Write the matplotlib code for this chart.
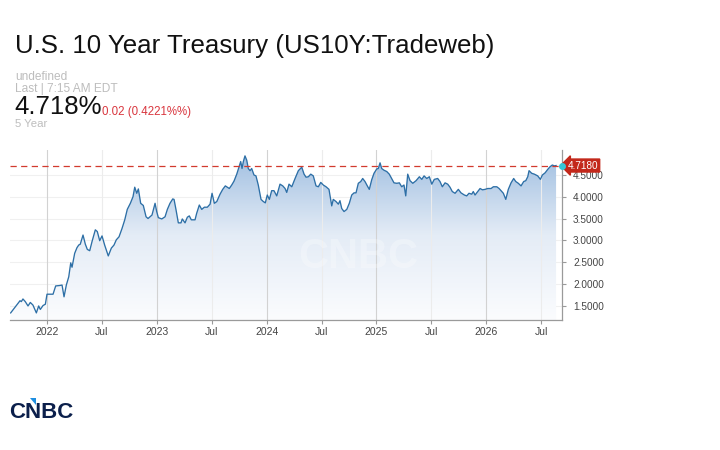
#!/usr/bin/env python3
import matplotlib
matplotlib.use('Agg')
import matplotlib.pyplot as plt
import numpy as np
from matplotlib.colors import LinearSegmentedColormap
from matplotlib.patches import Polygon

plt.rcParams['font.family'] = ['Liberation Sans', 'DejaVu Sans']

# decimal years and yields
t_years = [
    2021.669, 2021.706, 2021.736, 2021.754, 2021.766, 2021.781, 2021.802, 2021.827, 2021.848, 2021.872,
    2021.903, 2021.924, 2021.939, 2021.964, 2021.985, 2022.000, 2022.039, 2022.055, 2022.079, 2022.116,
    2022.137, 2022.155, 2022.176, 2022.198, 2022.216, 2022.228, 2022.252, 2022.273, 2022.289, 2022.303,
    2022.328, 2022.349, 2022.367, 2022.389, 2022.410, 2022.440, 2022.458, 2022.480, 2022.501, 2022.525,
    2022.558, 2022.586, 2022.610, 2022.631, 2022.656, 2022.683, 2022.708, 2022.731, 2022.759, 2022.783,
    2022.799, 2022.817, 2022.832, 2022.853, 2022.877, 2022.902, 2022.920, 2022.956, 2022.984, 2022.999,
    2023.014, 2023.045, 2023.075, 2023.096, 2023.120, 2023.145, 2023.157, 2023.175, 2023.196, 2023.220,
    2023.232, 2023.257, 2023.278, 2023.296, 2023.314, 2023.348, 2023.363, 2023.387, 2023.409, 2023.433,
    2023.460, 2023.485, 2023.503, 2023.524, 2023.546, 2023.576, 2023.600, 2023.624, 2023.642, 2023.660,
    2023.682, 2023.703, 2023.728, 2023.749, 2023.764, 2023.776, 2023.788, 2023.803, 2023.819, 2023.833,
    2023.849, 2023.864, 2023.885, 2023.903, 2023.924, 2023.949, 2023.970, 2023.988, 2024.006, 2024.025,
    2024.046, 2024.067, 2024.092, 2024.122, 2024.147, 2024.168, 2024.183, 2024.204, 2024.229, 2024.259,
    2024.289, 2024.320, 2024.341, 2024.359, 2024.380, 2024.402, 2024.425, 2024.450, 2024.471, 2024.493,
    2024.516, 2024.541, 2024.568, 2024.593, 2024.607, 2024.632, 2024.653, 2024.668, 2024.684, 2024.705,
    2024.730, 2024.753, 2024.775, 2024.796, 2024.814, 2024.835, 2024.857, 2024.875, 2024.896, 2024.917,
    2024.935, 2024.957, 2024.978, 2025.003, 2025.017, 2025.033, 2025.048, 2025.069, 2025.094, 2025.117,
    2025.139, 2025.160, 2025.185, 2025.209, 2025.230, 2025.251, 2025.267, 2025.285, 2025.306, 2025.331,
    2025.361, 2025.391, 2025.413, 2025.434, 2025.458, 2025.482, 2025.504, 2025.527, 2025.558, 2025.579,
    2025.600, 2025.625, 2025.649, 2025.670, 2025.691, 2025.716, 2025.746, 2025.770, 2025.801, 2025.822,
    2025.843, 2025.868, 2025.882, 2025.898, 2025.923, 2025.944, 2025.965, 2025.989, 2026.014, 2026.044,
    2026.065, 2026.096, 2026.117, 2026.141, 2026.156, 2026.178, 2026.201, 2026.226, 2026.250, 2026.269,
    2026.292, 2026.317, 2026.341, 2026.360, 2026.378, 2026.390, 2026.414, 2026.438, 2026.469, 2026.493,
    2026.511, 2026.536, 2026.560, 2026.581, 2026.602, 2026.620, 2026.636,
]
yields = [
    1.33, 1.45, 1.55, 1.61, 1.59, 1.65, 1.59, 1.49, 1.57, 1.51,
    1.33, 1.49, 1.41, 1.50, 1.53, 1.76, 1.76, 1.76, 1.95, 1.96,
    1.97, 1.70, 1.97, 2.16, 2.48, 2.38, 2.70, 2.83, 2.89, 2.91,
    3.12, 2.91, 2.79, 2.76, 2.97, 3.24, 3.20, 2.99, 3.10, 2.89,
    2.64, 2.82, 2.89, 3.01, 3.08, 3.27, 3.47, 3.71, 3.85, 4.00,
    4.22, 4.08, 4.18, 3.85, 3.80, 3.54, 3.50, 3.58, 3.85, 3.66,
    3.52, 3.49, 3.54, 3.71, 3.85, 3.95, 3.94, 3.70, 3.40, 3.40,
    3.49, 3.40, 3.53, 3.56, 3.47, 3.47, 3.62, 3.81, 3.71, 3.76,
    3.76, 3.83, 4.08, 3.85, 3.89, 4.06, 4.17, 4.25, 4.22, 4.19,
    4.27, 4.36, 4.52, 4.69, 4.81, 4.65, 4.81, 4.94, 4.84, 4.65,
    4.60, 4.65, 4.50, 4.48, 4.27, 3.94, 3.89, 3.86, 4.04, 3.94,
    4.14, 4.14, 4.02, 4.29, 4.25, 4.19, 4.10, 4.29, 4.23, 4.42,
    4.60, 4.68, 4.52, 4.45, 4.46, 4.52, 4.48, 4.25, 4.23, 4.33,
    4.27, 4.23, 4.17, 3.79, 3.94, 3.89, 3.83, 3.91, 3.73, 3.66,
    3.71, 3.85, 4.04, 4.09, 4.09, 4.31, 4.35, 4.42, 4.35, 4.25,
    4.17, 4.39, 4.54, 4.64, 4.65, 4.78, 4.65, 4.61, 4.58, 4.52,
    4.42, 4.32, 4.31, 4.32, 4.23, 4.27, 4.02, 4.52, 4.37, 4.31,
    4.37, 4.46, 4.40, 4.48, 4.42, 4.46, 4.29, 4.40, 4.42, 4.35,
    4.23, 4.32, 4.29, 4.22, 4.12, 4.08, 4.17, 4.09, 4.04, 4.02,
    4.08, 4.06, 4.12, 4.04, 4.12, 4.19, 4.16, 4.17, 4.19, 4.19,
    4.23, 4.23, 4.19, 4.12, 4.08, 3.94, 4.17, 4.32, 4.42, 4.35,
    4.31, 4.25, 4.35, 4.37, 4.46, 4.60, 4.54, 4.52, 4.48, 4.40,
    4.50, 4.55, 4.63, 4.69, 4.73, 4.71, 4.718,
]
last_value = 4.718
x_ticks = [2022, 2022.5, 2023, 2023.5, 2024, 2024.5, 2025, 2025.5, 2026, 2026.5]
x_labels = ['2022', 'Jul', '2023', 'Jul', '2024', 'Jul', '2025', 'Jul', '2026', 'Jul']
y_ticks = [1.5, 2.0, 2.5, 3.0, 3.5, 4.0, 4.5]

x_min, x_max = 2021.663, 2026.690
y_min, y_max = 1.167, 5.075

fig = plt.figure(figsize=(7.2, 4.5), dpi=100)
fig.patch.set_facecolor('white')

# header texts (pixel positions from the top-left)
def ftext(px, py, s, **kw):
    fig.text(px / 720, 1 - py / 450, s, va='baseline', ha='left', **kw)

ftext(15, 53, 'U.S. 10 Year Treasury (US10Y:Tradeweb)', fontsize=18.6, color='#111111')
ftext(15, 80.5, 'undefined', fontsize=8.6, color='#bdbdbd')
ftext(15, 92.3, 'Last | 7:15 AM EDT', fontsize=8.6, color='#bdbdbd')
ftext(14, 114.5, '4.718%', fontsize=18.5, color='#111111')
ftext(102, 114.5, '0.02 (0.4221%%)', fontsize=8.3, color='#d9363e')
ftext(15, 127, '5 Year', fontsize=8.2, color='#bdbdbd')

# CNBC logo bottom-left
ftext(9, 418, 'CNBC', fontsize=16, fontweight='bold', color='#0b1f4b')
fig.patches.append(Polygon([[30 / 720, 1 - 398 / 450], [36 / 720, 1 - 398 / 450],
                            [36 / 720, 1 - 405 / 450]], closed=True,
                           transform=fig.transFigure, facecolor='#1e8ee0', edgecolor='none'))

ax = fig.add_axes([10 / 720, 1 - 320 / 450, 552 / 720, 170 / 450])
ax.set_xlim(x_min, x_max)
ax.set_ylim(y_min, y_max)

# gradient fill under the line
poly = ax.fill_between(t_years, yields, y_min, facecolor='none', edgecolor='none')
cmap = LinearSegmentedColormap.from_list('fill', ['#fbfcfe', '#e4ecf6', '#9dbde0'])
grad = np.linspace(0, 1, 256).reshape(-1, 1)
img = ax.imshow(grad, extent=[x_min, x_max, y_min, y_max], origin='lower',
                aspect='auto', cmap=cmap, zorder=1)
img.set_clip_path(poly.get_paths()[0], transform=ax.transData)

ax.plot(t_years, yields, color='#2d6fa6', lw=0.95, zorder=3)

# grid
for xt in x_ticks:
    c = '#d2d2d2' if xt == int(xt) else '#ececec'
    ax.axvline(xt, color=c, lw=0.8, zorder=2)
for yt in y_ticks:
    ax.axhline(yt, color='#f0f0f0', lw=0.8, zorder=0.5)

ax.axhline(last_value, color='#d23a2e', lw=0.9, ls=(0, (5, 3.5)), zorder=4)

# watermark
ax.text(0.63, 0.37, 'CNBC', transform=ax.transAxes, ha='center', va='center',
        fontsize=30, fontweight='bold', color='white', alpha=0.28, zorder=2.5)

for s in ['top', 'left']:
    ax.spines[s].set_visible(False)
ax.spines['bottom'].set_color('#9a9a9a')
ax.spines['right'].set_color('#9a9a9a')
ax.spines['bottom'].set_linewidth(0.9)
ax.spines['right'].set_linewidth(0.9)

ax.set_xticks(x_ticks)
ax.set_xticklabels(x_labels)
ax.yaxis.tick_right()
ax.set_yticks(y_ticks)
ax.set_yticklabels(['%.4f' % v for v in y_ticks])
ax.tick_params(axis='x', length=3, color='#9a9a9a', labelsize=7.5, labelcolor='#444444', pad=2)
ax.tick_params(axis='y', length=3, color='#9a9a9a', labelsize=7.2, labelcolor='#444444', pad=5)

# last value tag
ax.annotate('%.4f' % last_value, xy=(1.0, last_value), xycoords=('axes fraction', 'data'),
            xytext=(4, 0), textcoords='offset points', ha='left', va='center',
            fontsize=7.2, color='white', annotation_clip=False, zorder=6,
            bbox=dict(boxstyle='larrow,pad=0.15', fc='#c3281b', ec='#c3281b'))
ax.plot([x_max], [last_value], 'o', ms=4, color='#35c7d8', clip_on=False, zorder=7)

plt.savefig('out.png', dpi=100)
